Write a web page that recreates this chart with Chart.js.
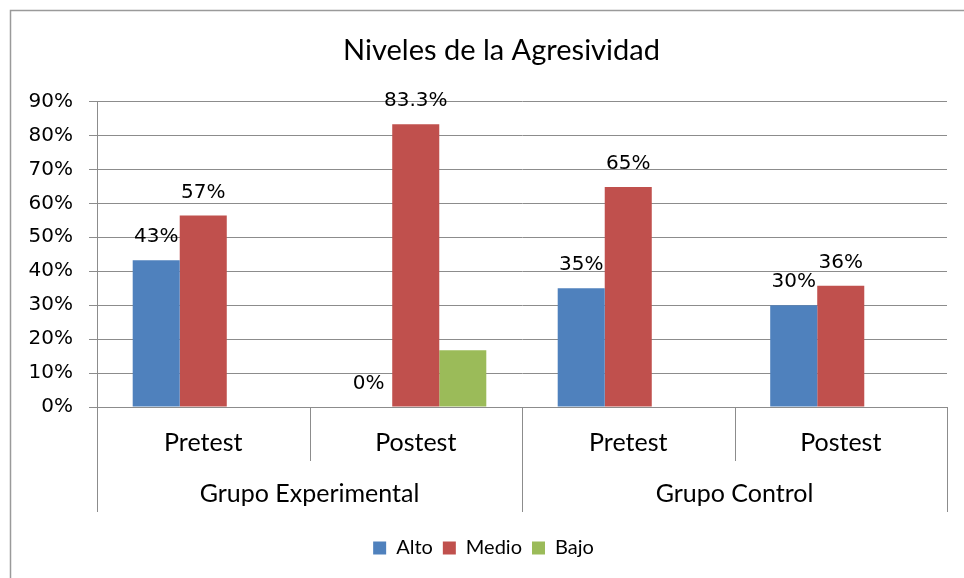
<!DOCTYPE html>
<html>
<head>
<meta charset="utf-8">
<script src="https://cdn.jsdelivr.net/npm/chart.js@4.4.1/dist/chart.umd.min.js"></script>
<style>
  html, body { margin: 0; padding: 0; background: #fff; }
  #wrap { width: 964px; height: 578px; position: relative; }
</style>
</head>
<body>
<div id="wrap"><canvas id="barChart" width="964" height="578"></canvas></div>
<script>
// Chart data
const categories = ['Pretest', 'Postest', 'Pretest', 'Postest'];
const groups = ['Grupo Experimental', 'Grupo Control'];
const altoValues = [43.2, 0, 35, 30];
const medioValues = [56.4, 83.3, 64.8, 35.7];
const bajoValues = [null, 16.7, null, null];
const altoLabels = ['43%', '0%', '35%', '30%'];
const medioLabels = ['57%', '83.3%', '65%', '36%'];
const bajoLabels = [null, null, null, null];
const yTicks = [0, 10, 20, 30, 40, 50, 60, 70, 80, 90];

const gridColor = '#8c8c8c';
const numFont = { family: 'DejaVu Sans', size: 20 };
const textFont = { family: 'Lato', size: 25 };

// Outer frame of the chart, and title centred on the frame
const framePlugin = {
    id: 'frame',
    afterLayout(chart) {
        chart.titleBlock.left += 18;
        chart.titleBlock.right += 18;
    },
    beforeDraw(chart) {
        const ctx = chart.ctx;
        ctx.save();
        ctx.strokeStyle = '#9a9a9a';
        ctx.lineWidth = 1.5;
        ctx.beginPath();
        ctx.moveTo(10.5, 578);
        ctx.lineTo(10.5, 10.5);
        ctx.lineTo(964, 10.5);
        ctx.stroke();
        ctx.restore();
    }
};

// Category separators below the axis
const separatorPlugin = {
    id: 'separators',
    afterDraw(chart) {
        const x = chart.scales.x;
        const x2 = chart.scales.x2;
        const ctx = chart.ctx;
        const step = (x.right - x.left) / categories.length;
        ctx.save();
        ctx.strokeStyle = gridColor;
        ctx.lineWidth = 1;
        for (let i = 0; i <= categories.length; i++) {
            const px = Math.round(x.left + i * step) + 0.5;
            const bottom = (i % 2 === 0) ? x2.top + 51 : x.bottom;
            ctx.beginPath();
            ctx.moveTo(px, x.top);
            ctx.lineTo(px, bottom);
            ctx.stroke();
        }
        ctx.restore();
    }
};

// Value labels above bars
const labelPlugin = {
    id: 'valueLabels',
    afterDatasetsDraw(chart) {
        const ctx = chart.ctx;
        const allLabels = [altoLabels, medioLabels, bajoLabels];
        ctx.save();
        ctx.font = numFont.size + 'px ' + numFont.family;
        ctx.fillStyle = '#000';
        ctx.textAlign = 'center';
        ctx.textBaseline = 'alphabetic';
        chart.data.datasets.forEach((ds, di) => {
            const meta = chart.getDatasetMeta(di);
            meta.data.forEach((bar, i) => {
                const text = allLabels[di][i];
                if (text) ctx.fillText(text, bar.x, bar.y - 18);
            });
        });
        ctx.restore();
    }
};

const plotData = {
    labels: categories,
    datasets: [
        { label: 'Alto', data: altoValues, backgroundColor: '#4F81BD' },
        { label: 'Medio', data: medioValues, backgroundColor: '#C0504D' },
        { label: 'Bajo', data: bajoValues, backgroundColor: '#9BBB59' }
    ]
};

const plotConfig = {
    type: 'bar',
    data: plotData,
    options: {
        responsive: false,
        animation: false,
        layout: { padding: { left: 20, right: 17, top: 20, bottom: 10 } },
        datasets: { bar: { categoryPercentage: 0.664, barPercentage: 1.0 } },
        plugins: {
            title: {
                display: true,
                text: 'Niveles de la Agresividad',
                color: '#000',
                font: { family: 'Lato', size: 29, weight: 'normal' },
                padding: { top: 13, bottom: 33.7 }
            },
            legend: {
                position: 'bottom',
                labels: {
                    color: '#000',
                    font: { family: 'Lato', size: 20 },
                    boxWidth: 13,
                    boxHeight: 13,
                    padding: 10
                }
            },
            tooltip: { enabled: false }
        },
        scales: {
            x: {
                type: 'category',
                position: 'bottom',
                offset: true,
                grid: { display: false, drawTicks: false },
                border: { display: false },
                ticks: { color: '#000', font: textFont, padding: 21 },
                afterFit(scale) { scale.height = 54; }
            },
            x2: {
                type: 'category',
                labels: groups,
                position: 'bottom',
                offset: true,
                grid: { display: false, drawTicks: false },
                border: { display: false },
                ticks: { color: '#000', font: textFont, padding: 18 },
                afterFit(scale) { scale.height = 67; }
            },
            y: {
                min: 0,
                max: 90,
                afterBuildTicks(scale) {
                    scale.ticks = yTicks.map(v => ({ value: v }));
                },
                afterFit(scale) { scale.width = 77; },
                grid: { color: gridColor, tickLength: 8 },
                border: { display: true, color: gridColor },
                ticks: {
                    color: '#000',
                    font: numFont,
                    padding: 16,
                    callback: v => v + '%'
                }
            }
        }
    },
    plugins: [framePlugin, separatorPlugin, labelPlugin]
};

window.chart = new Chart(document.getElementById('barChart'), plotConfig);
</script>
</body>
</html>
